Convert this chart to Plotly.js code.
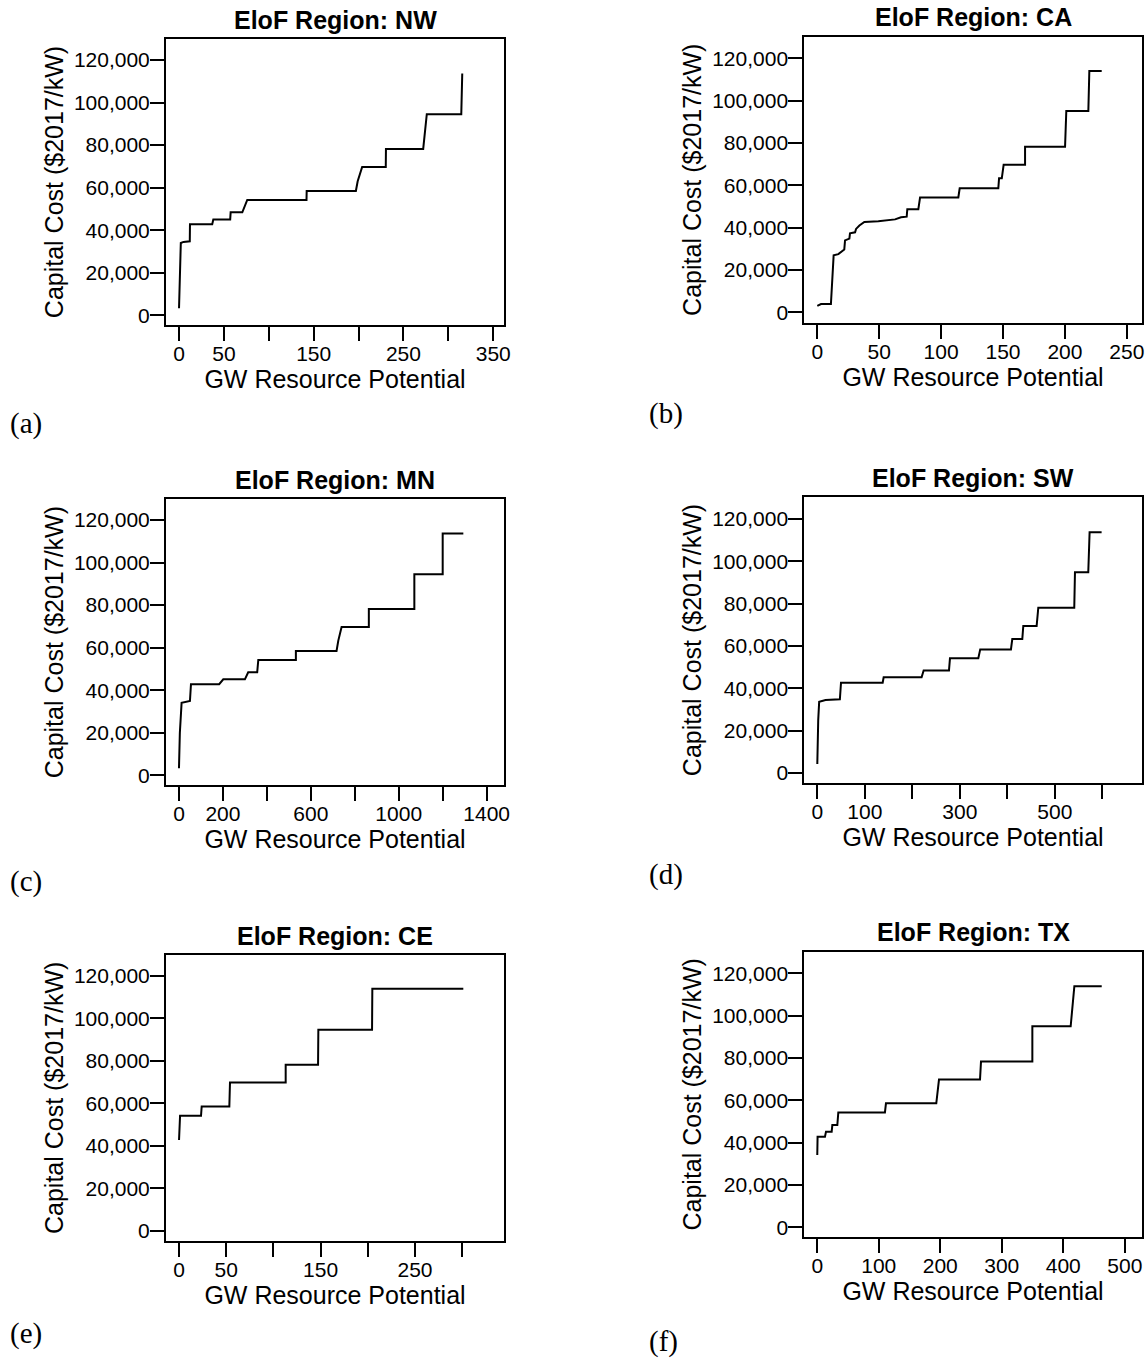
<!DOCTYPE html>
<html>
<head>
<meta charset="utf-8">
<script src="https://cdn.plot.ly/plotly-3.0.1.min.js"></script>
<style>html,body{margin:0;padding:0;background:#fff;}#chart{width:1145px;height:1361px;}</style>
</head>
<body>
<div id="chart"></div>
<script>
// ---------- data (GW cumulative, capital cost $2017/kW) ----------
const regions = ["NW", "CA", "MN", "SW", "CE", "TX"];
const panelLabels = ["(a)", "(b)", "(c)", "(d)", "(e)", "(f)"];

const nwX = [0, 1, 2, 5, 12, 12.2, 37, 38.2, 57, 57.5, 70.5, 76, 142, 142.2, 197, 199, 204, 230.3, 230.5, 272, 276, 314.4, 315.5];
const nwY = [3300, 25000, 34000, 34500, 34800, 42800, 42800, 45000, 45000, 48400, 48400, 54200, 54200, 58400, 58400, 63000, 69700, 69700, 78200, 78200, 94500, 94500, 113700];

const caX = [0, 3, 11, 12, 13.2, 17, 21.8, 22.4, 25.9, 26.4, 30.5, 31.3, 34, 38, 49.3, 62.8, 67.6, 72.2, 72.7, 81.6, 83, 113.9, 115, 146.2, 146.8, 149, 150.5, 167.8, 167.8, 200.1, 201.1, 218.9, 219.7, 229.7];
const caY = [3000, 3900, 3900, 15000, 26900, 27500, 29700, 34000, 34800, 37300, 37800, 39400, 41000, 42700, 43000, 43900, 44900, 45200, 48700, 48700, 54300, 54300, 58600, 58600, 63300, 63300, 69700, 69700, 78200, 78200, 95100, 95100, 114000, 114000];

const mnX = [0, 4, 12, 50, 54.6, 183, 201.6, 300, 315, 356, 361, 532, 532, 717, 725, 740, 864, 864, 1071, 1071, 1200, 1200, 1294];
const mnY = [3300, 20000, 34100, 34900, 42800, 42800, 45100, 45100, 48400, 48400, 54200, 54200, 58400, 58400, 63300, 69700, 69700, 78200, 78200, 94500, 94500, 113700, 113700];

const swX = [0, 0.7, 1.9, 3.9, 17.4, 47.5, 49.9, 137.6, 139.7, 219.6, 223.9, 277.2, 279.3, 339, 343, 407.7, 410.5, 431.6, 433.7, 461.8, 465.3, 541, 542.5, 570.5, 573.3, 598.6];
const swY = [4250, 16400, 25000, 33700, 34500, 34800, 42700, 42700, 45200, 45200, 48400, 48400, 54200, 54200, 58400, 58400, 63300, 63300, 69500, 69500, 78100, 78100, 94800, 94800, 113700, 113700];

const ceX = [0, 1.1, 23.3, 24, 53.3, 54, 113, 113, 147.3, 147.6, 204.5, 204.8, 301.2];
const ceY = [42700, 54100, 54100, 58500, 58500, 69700, 69700, 78100, 78100, 94600, 94600, 113900, 113900];

const txX = [0, 0.5, 12.5, 14.2, 23.4, 24.5, 32.6, 34.2, 110, 111.7, 193.5, 195.2, 197.9, 264.6, 266.2, 349.7, 349.7, 412, 418, 462.5];
const txY = [34200, 42800, 42800, 45200, 45200, 48300, 48300, 54300, 54300, 58600, 58600, 62800, 69800, 69800, 78300, 78300, 95000, 95000, 113900, 113900];

// tick values / labels
const yTickVals = [0, 20000, 40000, 60000, 80000, 100000, 120000];
const yTickText = ["0", "20,000", "40,000", "60,000", "80,000", "100,000", "120,000"];
const nwTickVals = [0, 50, 100, 150, 200, 250, 300, 350];
const nwTickText = ["0", "50", "", "150", "", "250", "", "350"];
const caTickVals = [0, 50, 100, 150, 200, 250];
const caTickText = ["0", "50", "100", "150", "200", "250"];
const mnTickVals = [0, 200, 400, 600, 800, 1000, 1200, 1400];
const mnTickText = ["0", "200", "", "600", "", "1000", "", "1400"];
const swTickVals = [0, 100, 200, 300, 400, 500, 600];
const swTickText = ["0", "100", "", "300", "", "500", ""];
const ceTickVals = [0, 50, 100, 150, 200, 250, 300];
const ceTickText = ["0", "50", "", "150", "", "250", ""];
const txTickVals = [0, 100, 200, 300, 400, 500];
const txTickText = ["0", "100", "200", "300", "400", "500"];

const yTitle = "Capital Cost ($2017/kW)";
const xTitle = "GW Resource Potential";

// ---------- layout geometry (pixels) ----------
const W = 1145, H = 1361;
const series = [[nwX, nwY], [caX, caY], [mnX, mnY], [swX, swY], [ceX, ceY], [txX, txY]];
const xticks = [[nwTickVals, nwTickText], [caTickVals, caTickText], [mnTickVals, mnTickText],
                [swTickVals, swTickText], [ceTickVals, ceTickText], [txTickVals, txTickText]];
const boxes = [
  [166, 504, 39, 325], [804.3, 1141.7, 36.7, 322.7],
  [166, 504, 499.3, 785], [804.3, 1141.7, 497.3, 782.7],
  [166, 504, 955, 1240.7], [804.3, 1141.7, 951.7, 1237]
];
const xRanges = [[-14.5, 362], [-10.5, 262], [-59, 1479], [-27.4, 683], [-13.8, 344.3], [-21.1, 527.5]];
const yRanges = [[-4560, 129870], [-4900, 130200], [-4560, 129720], [-4580, 130270], [-4700, 129740], [-4580, 130220]];
const labelPos = [[26, 423], [666, 413], [26, 881], [666, 874], [26, 1333], [663, 1341]];

const sans = "Liberation Sans, Arial, sans-serif";
const traces = [];
const layout = {
  width: W, height: H,
  margin: {l: 0, r: 0, t: 0, b: 0},
  paper_bgcolor: "#fff", plot_bgcolor: "#fff",
  showlegend: false,
  font: {family: sans, color: "#000"},
  annotations: []
};

for (let i = 0; i < 6; i++) {
  const n = i === 0 ? "" : String(i + 1);
  const [x0, x1, y0, y1] = boxes[i];
  traces.push({
    x: series[i][0], y: series[i][1],
    xaxis: "x" + n, yaxis: "y" + n,
    type: "scatter", mode: "lines",
    line: {color: "#000", width: 2},
    hoverinfo: "skip"
  });
  const common = {
    showgrid: false, zeroline: false, showline: true, mirror: true,
    linecolor: "#000", linewidth: 2,
    ticks: "outside", ticklen: 14, tickwidth: 2, tickcolor: "#000",
    tickfont: {family: sans, size: 21, color: "#000"},
    fixedrange: true
  };
  layout["xaxis" + n] = Object.assign({}, common, {
    domain: [x0 / W, x1 / W], anchor: "y" + n,
    range: xRanges[i], tickmode: "array",
    tickvals: xticks[i][0], ticktext: xticks[i][1],
    ticklabelstandoff: -5,
    title: {text: xTitle, font: {family: sans, size: 25, color: "#000"}, standoff: 1}
  });
  layout["yaxis" + n] = Object.assign({}, common, {
    domain: [1 - y1 / H, 1 - y0 / H], anchor: "x" + n,
    range: yRanges[i], tickmode: "array",
    tickvals: yTickVals, ticktext: yTickText,
    ticklabelstandoff: -4,
    title: {text: yTitle, font: {family: sans, size: 25, color: "#000"}, standoff: 3}
  });
  layout.annotations.push({
    text: "<b>EloF Region: " + regions[i] + "</b>",
    xref: "paper", yref: "paper",
    x: (x0 + x1) / 2 / W, y: 1 - (y0 - 19.5) / H,
    xanchor: "center", yanchor: "middle", showarrow: false,
    font: {family: sans, size: 25, color: "#000"}
  });
  layout.annotations.push({
    text: panelLabels[i],
    xref: "paper", yref: "paper",
    x: labelPos[i][0] / W, y: 1 - labelPos[i][1] / H,
    xanchor: "center", yanchor: "middle", showarrow: false, borderpad: 0,
    font: {family: "Liberation Serif, Times New Roman, serif", size: 29, color: "#000"}
  });
}

Plotly.newPlot("chart", traces, layout, {staticPlot: true, displayModeBar: false});
</script>
</body>
</html>
